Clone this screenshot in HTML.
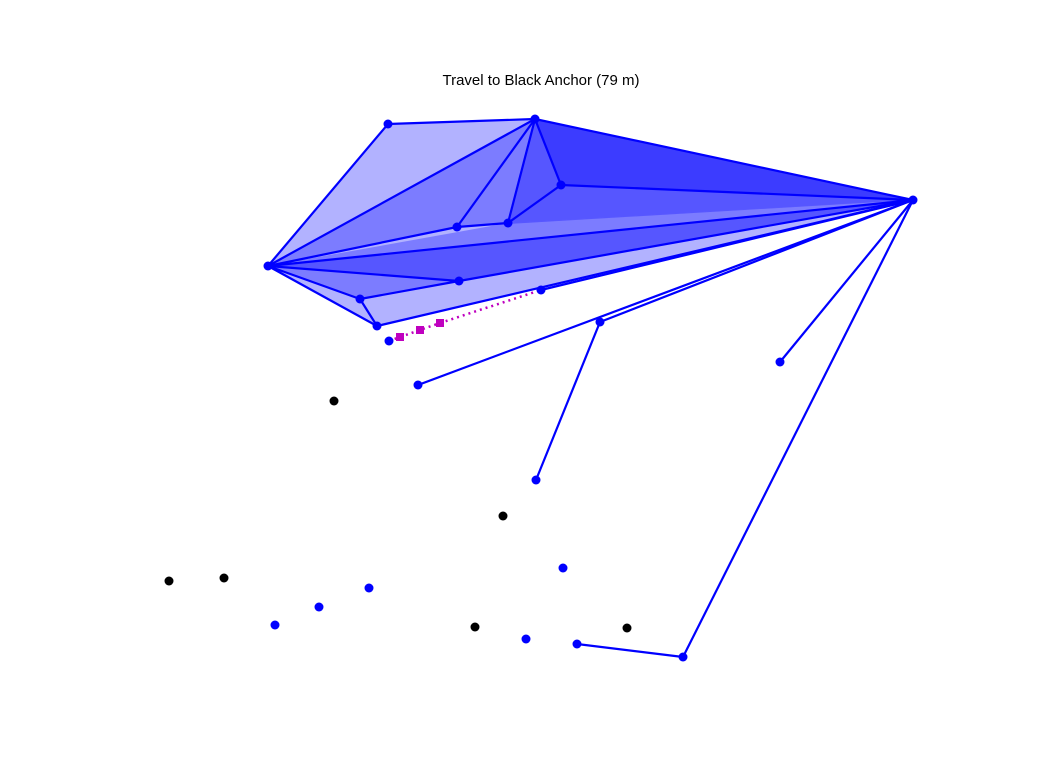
<!DOCTYPE html>
<html><head><meta charset="utf-8"><style>body{margin:0;background:#fff}svg{display:block}</style></head><body>
<svg id="chart" width="1056" height="768" viewBox="0 0 1056 768">
<text x="541" y="85" text-anchor="middle" font-family="Liberation Sans, sans-serif" font-size="15">Travel to Black Anchor (79 m)</text>
<g id="fills"></g><g id="edges"></g><g id="path"></g><g id="nodes"></g>
</svg>
<script>
const nodeNames=['A','B','C','D','E','F','G','H','I','J','K','L','M','N','O','P','Q','R','S1','S2','S3','S4','S5'];
const nodeX=[388,535,913,561,457,508,268,459,541,360,377,389,600,418,780,536,683,577,563,319,369,275,526];
const nodeY=[124,119,200,185,227,223,266,281,290,299,326,341,322,385,362,480,657,644,568,607,588,625,639];
const blackX=[334,503,169,224,475,627];
const blackY=[401,516,581,578,627,628];
const edgeFrom=['A','A','G','B','B','B','B','D','D','E','E','G','G','H','G','J','J','G','K','I','M','N','M','O','Q','R'];
const edgeTo  =['B','G','B','E','F','D','C','C','F','F','G','C','H','C','J','H','K','K','C','C','C','C','P','C','C','Q'];
const triA=['A','G','B','B','E','G','G','G','G','G'];
const triB=['B','B','D','F','B','C','H','J','B','F'];
const triC=['G','C','C','C','C','K','C','C','E','C'];
const pathX=[389,400,420,440,541];
const pathY=[341,337,330,323,290];
const NS='http://www.w3.org/2000/svg';
const idx=n=>nodeNames.indexOf(n);
const X=n=>nodeX[idx(n)],Y=n=>nodeY[idx(n)];
function mk(t,p,a){const e=document.createElementNS(NS,t);for(const k in a)e.setAttribute(k,a[k]);p.appendChild(e);return e;}
const fills=document.getElementById('fills'),edges=document.getElementById('edges'),pg=document.getElementById('path'),nodes=document.getElementById('nodes');
for(let i=0;i<triA.length;i++){
 const e=mk('polygon',fills,{points:[triA[i],triB[i],triC[i]].map(n=>X(n)+','+Y(n)).join(' '),fill:'#0000ff','fill-opacity':0.3,stroke:'none'});
 
 
}
for(let i=0;i<edgeFrom.length;i++){
 const e=mk('line',edges,{x1:X(edgeFrom[i]),y1:Y(edgeFrom[i]),x2:X(edgeTo[i]),y2:Y(edgeTo[i]),stroke:'#0000ff','stroke-width':2.2});
 
 
}
const pl=mk('polyline',pg,{points:pathX.map((x,i)=>x+','+pathY[i]).join(' '),fill:'none',stroke:'#bf00bf','stroke-width':2.5,'stroke-dasharray':'2,4'});


for(let i=1;i<pathX.length-1;i++){
 const e=mk('rect',pg,{x:pathX[i]-4,y:pathY[i]-4,width:8,height:8,fill:'#bf00bf'});
 
 
}
for(let i=0;i<nodeX.length;i++){
 const e=mk('circle',nodes,{cx:nodeX[i],cy:nodeY[i],r:4.5,fill:'#0000ff'});
 
 
}
for(let i=0;i<blackX.length;i++){
 const e=mk('circle',nodes,{cx:blackX[i],cy:blackY[i],r:4.5,fill:'#000'});
 
 
}
</script>
</body></html>
